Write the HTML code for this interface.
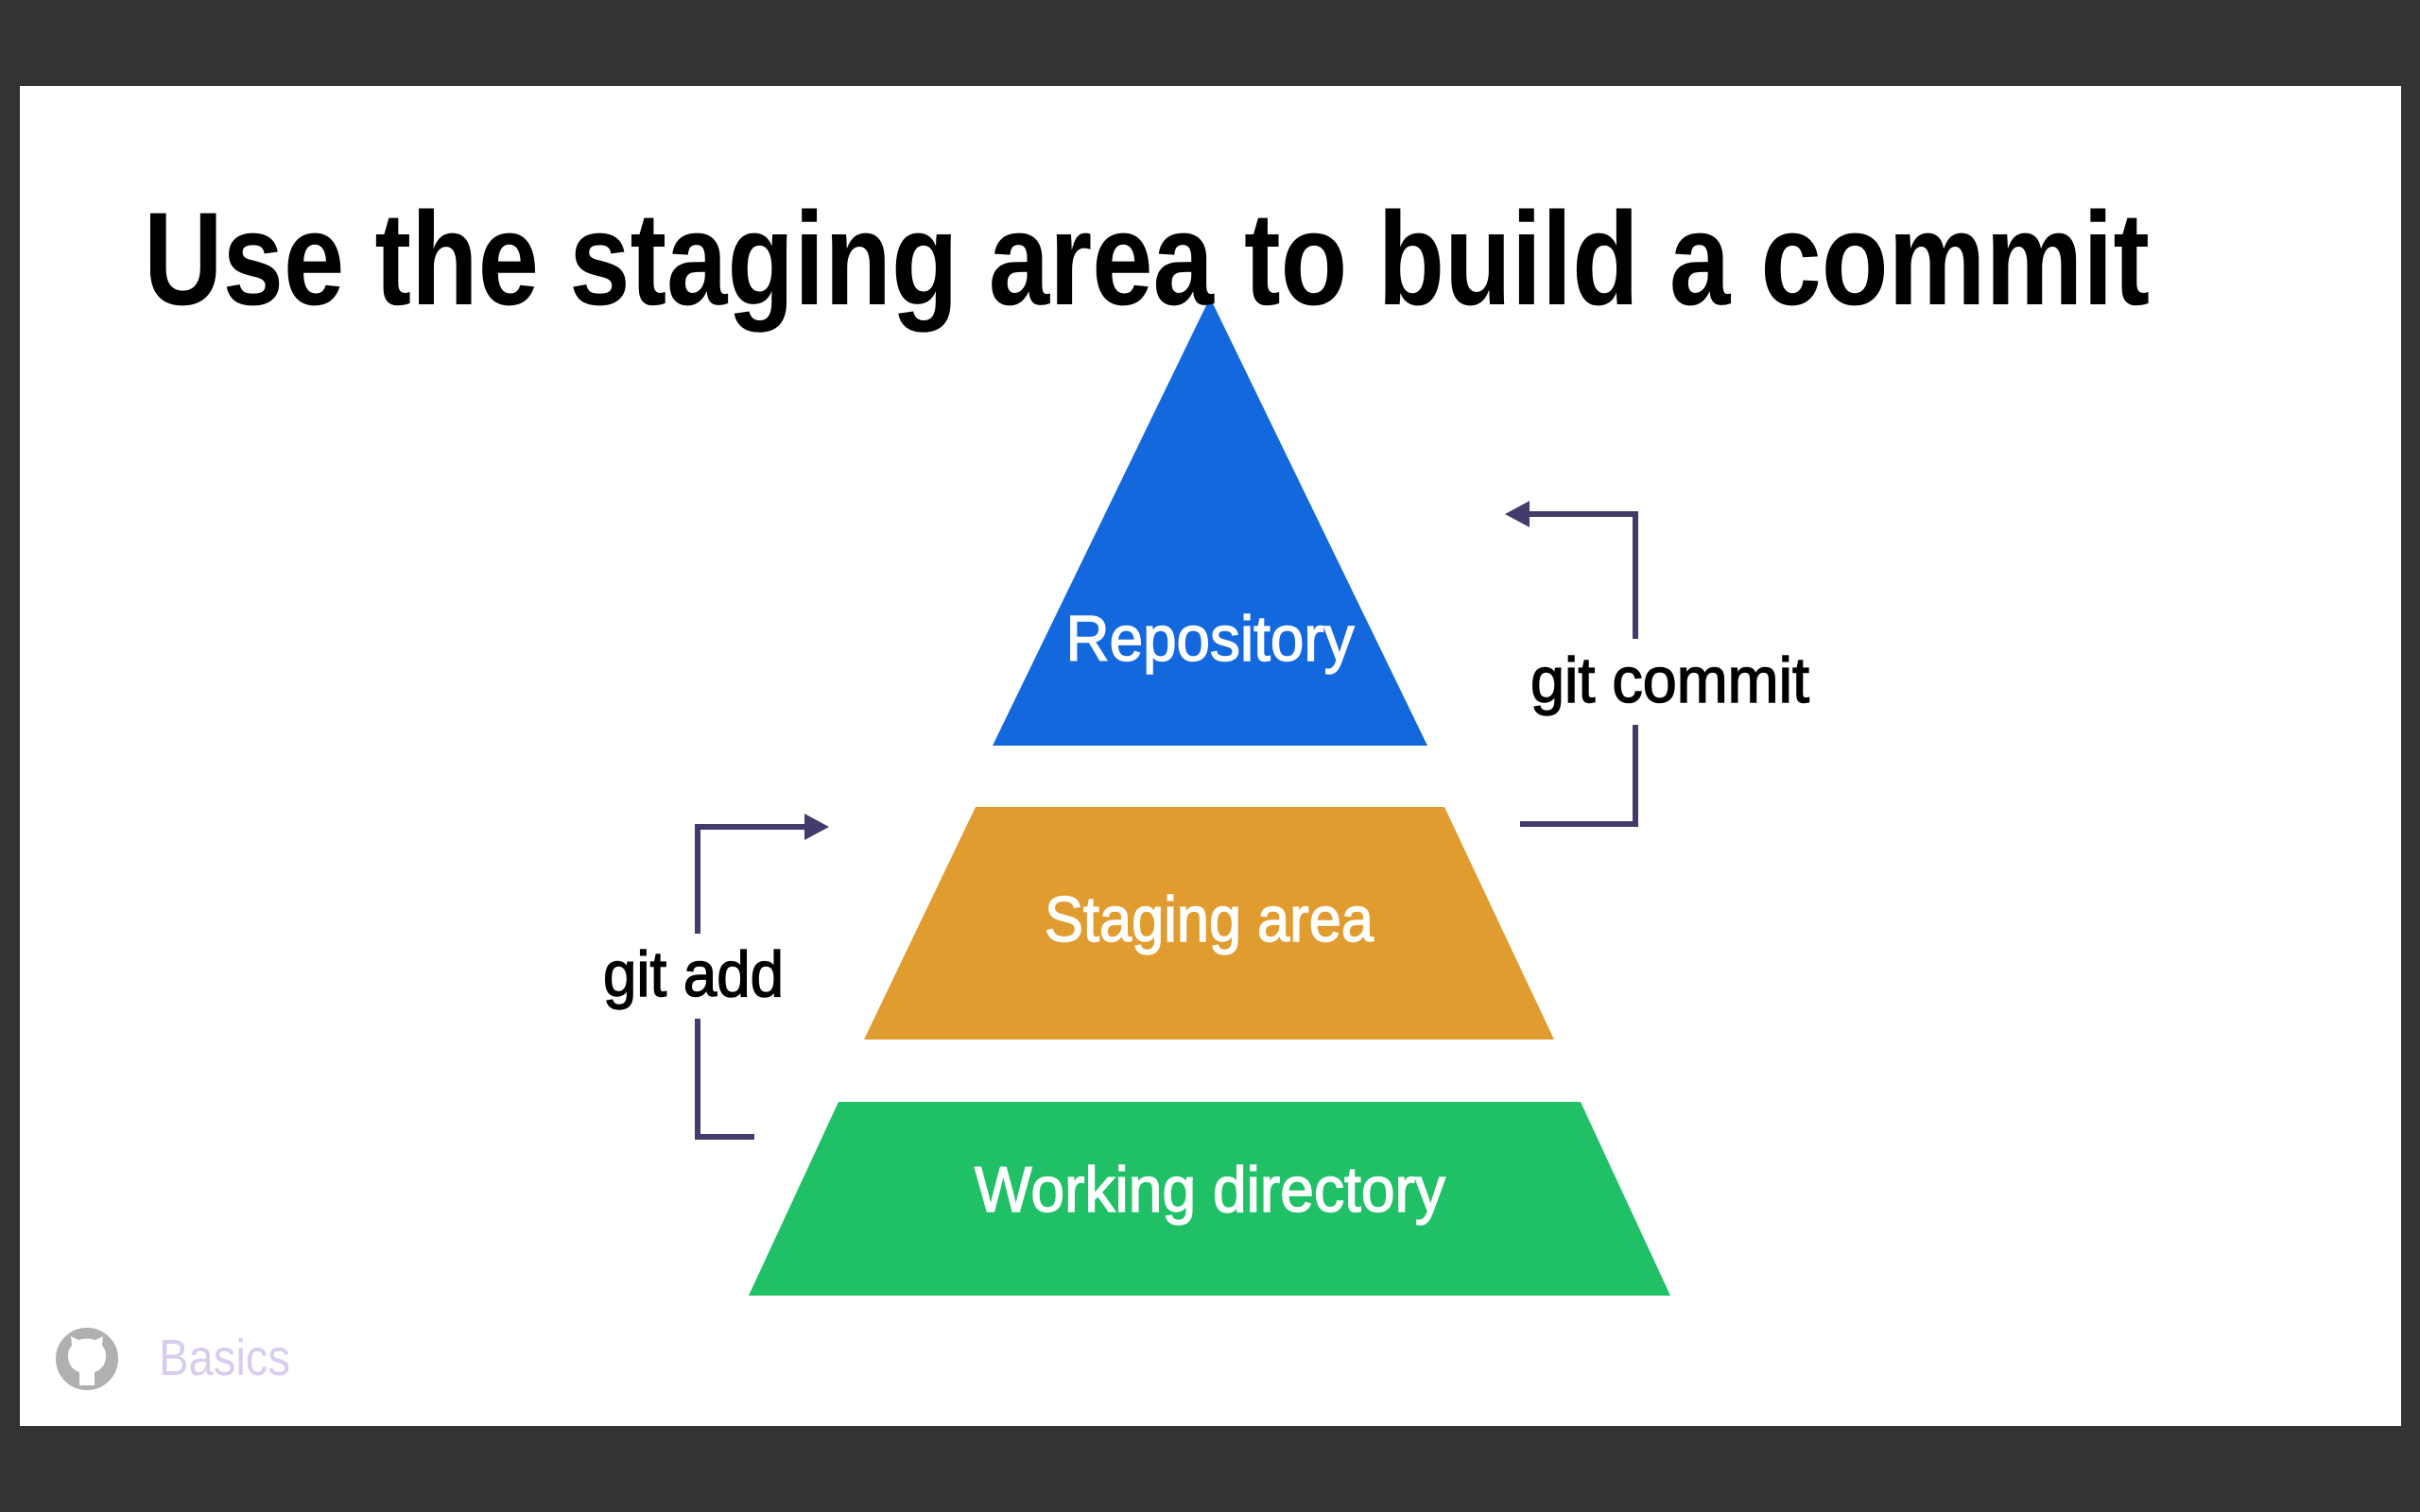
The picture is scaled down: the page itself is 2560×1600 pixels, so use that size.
<!DOCTYPE html>
<html><head><meta charset="utf-8"><style>
html,body{margin:0;padding:0;background:#333;}
svg{display:block;}
</style></head><body>
<svg width="2560" height="1600" viewBox="0 0 2560 1600" xmlns="http://www.w3.org/2000/svg">
<rect x="0" y="0" width="2560" height="1600" fill="#333333"/>
<rect x="21" y="91" width="2519" height="1418" fill="#ffffff"/>
<polygon points="1280,315 1510,789 1050,789" fill="#1268dc"/>
<polygon points="1032,854 1528,854 1644,1100 914,1100" fill="#e09c2f"/>
<polygon points="887,1166 1672,1166 1767,1371 792,1371" fill="#1fc066"/>
<text x="152" y="322" font-family="Liberation Sans, sans-serif" font-size="140" font-weight="bold" fill="#000" textLength="2122" lengthAdjust="spacingAndGlyphs">Use the staging area to build a commit</text>
<g font-family="Liberation Sans, sans-serif" font-size="68" fill="#fff" stroke="#fff" stroke-width="1.5" text-anchor="middle">
<text x="1280" y="699" textLength="305" lengthAdjust="spacingAndGlyphs">Repository</text>
<text x="1279" y="996" textLength="348" lengthAdjust="spacingAndGlyphs">Staging area</text>
<text x="1280" y="1282" textLength="498" lengthAdjust="spacingAndGlyphs">Working directory</text>
</g>
<g font-family="Liberation Sans, sans-serif" font-size="68" fill="#000" stroke="#000" stroke-width="1.5">
<text x="1619" y="743" textLength="295" lengthAdjust="spacingAndGlyphs">git commit</text>
<text x="638" y="1054" textLength="191" lengthAdjust="spacingAndGlyphs">git add</text>
</g>
<g stroke="#443a6b" stroke-width="6" fill="none">
<polyline points="1612,544 1730,544 1730,676"/>
<polyline points="1730,767 1730,872 1608,872"/>
<polyline points="798,1203 738,1203 738,1078"/>
<polyline points="738,988 738,875 856,875"/>
</g>
<polygon points="1592,544 1618,530 1618,558" fill="#443a6b"/>
<polygon points="877,875 851,861 851,889" fill="#443a6b"/>
<circle cx="92" cy="1438" r="31" fill="#b0b0b0"/>
<path d="M84,1466 L84,1452 Q72,1448 72,1434 Q72,1428 76,1424 L75,1414 L83,1418 Q92,1415 101,1418 L109,1414 L108,1424 Q112,1428 112,1434 Q112,1448 100,1452 L100,1466 Z" fill="#fff"/>
<circle cx="92" cy="1438" r="31" fill="none" stroke="#b0b0b0" stroke-width="4"/>
<text x="168" y="1455" font-family="Liberation Sans, sans-serif" font-size="54" fill="#d9cdef" textLength="139" lengthAdjust="spacingAndGlyphs">Basics</text>
</svg>
</body></html>
